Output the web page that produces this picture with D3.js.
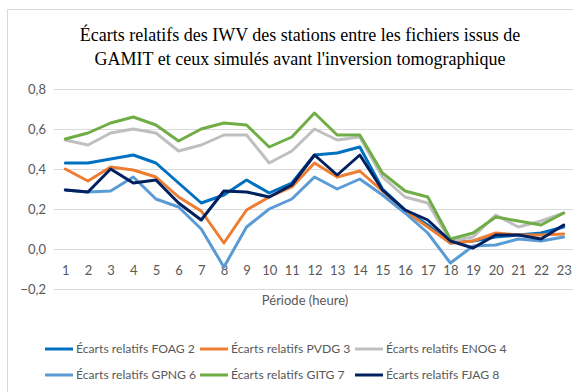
<!DOCTYPE html>
<html>
<head>
<meta charset="utf-8">
<script src="https://cdn.jsdelivr.net/npm/d3@7"></script>
<style>
  html, body { margin: 0; padding: 0; background: #fff; }
  svg { display: block; }
</style>
</head>
<body>
<svg id="chart" width="573" height="392"></svg>
<script>
// Heures de la période (axe des catégories)
const periods = d3.range(1, 24);
const yTicks = [-0.2, 0, 0.2, 0.4, 0.6, 0.8];

const seriesNames = [
  "Écarts relatifs FOAG 2",
  "Écarts relatifs PVDG 3",
  "Écarts relatifs ENOG 4",
  "Écarts relatifs GPNG 6",
  "Écarts relatifs GITG 7",
  "Écarts relatifs FJAG 8"
];
const seriesColors = ["#0070C0", "#ED7D31", "#BFBFBF", "#5B9BD5", "#70AD47", "#002060"];

const foag2 = [0.43, 0.43, 0.45, 0.47, 0.43, 0.33, 0.23, 0.27, 0.345, 0.28, 0.33, 0.47, 0.48, 0.51, 0.30, 0.195, 0.12, 0.03, 0.04, 0.06, 0.07, 0.08, 0.11];
const pvdg3 = [0.40, 0.34, 0.41, 0.395, 0.36, 0.26, 0.19, 0.03, 0.195, 0.26, 0.31, 0.43, 0.36, 0.39, 0.29, 0.19, 0.11, 0.03, 0.04, 0.08, 0.07, 0.07, 0.075];
const enog4 = [0.545, 0.52, 0.58, 0.60, 0.58, 0.49, 0.52, 0.57, 0.57, 0.43, 0.49, 0.60, 0.545, 0.56, 0.36, 0.26, 0.23, 0.04, 0.06, 0.17, 0.11, 0.14, 0.18];
const gpng6 = [0.295, 0.285, 0.29, 0.36, 0.25, 0.21, 0.10, -0.09, 0.11, 0.20, 0.25, 0.36, 0.30, 0.35, 0.27, 0.18, 0.08, -0.07, 0.015, 0.02, 0.05, 0.04, 0.06];
const gitg7 = [0.55, 0.58, 0.63, 0.66, 0.62, 0.54, 0.60, 0.63, 0.62, 0.51, 0.56, 0.68, 0.57, 0.57, 0.38, 0.29, 0.26, 0.05, 0.08, 0.16, 0.14, 0.12, 0.18];
const fjag8 = [0.295, 0.285, 0.40, 0.33, 0.345, 0.23, 0.145, 0.29, 0.285, 0.26, 0.32, 0.47, 0.37, 0.47, 0.295, 0.195, 0.145, 0.04, 0.005, 0.07, 0.07, 0.05, 0.12];

const seriesValues = [foag2, pvdg3, enog4, gpng6, gitg7, fjag8];

const svg = d3.select("#chart");
const sans = "Lato, 'Open Sans', sans-serif";

// Cadre de la zone du graphique
svg.append("rect")
  .attr("x", 7.5).attr("y", 9.5)
  .attr("width", 600).attr("height", 400)
  .attr("fill", "#fff")
  .attr("stroke", "#D9D9D9");

// Titre
const title = svg.append("text")
  .attr("text-anchor", "middle")
  .attr("font-family", "'Liberation Serif', 'Times New Roman', serif")
  .attr("font-size", 18)
  .attr("fill", "#000");
title.append("tspan").attr("x", 300).attr("y", 41)
  .text("Écarts relatifs des IWV des stations entre les fichiers issus de");
title.append("tspan").attr("x", 300).attr("y", 65)
  .text("GAMIT et ceux simulés avant l'inversion tomographique");

// Échelles
const x = d3.scalePoint().domain(periods).range([54, 575]).padding(0.5);
const y = d3.scaleLinear().domain([-0.2, 0.8]).range([289, 89]);

// Quadrillage horizontal
svg.append("g")
  .selectAll("line")
  .data(yTicks)
  .join("line")
  .attr("x1", 54).attr("x2", 575)
  .attr("y1", d => Math.round(y(d)) + 0.5)
  .attr("y2", d => Math.round(y(d)) + 0.5)
  .attr("stroke", "#D9D9D9")
  .attr("stroke-width", 1);

// Axe vertical (libellés seulement)
const yAxis = svg.append("g")
  .attr("transform", "translate(46,0)")
  .call(d3.axisLeft(y).tickValues(yTicks).tickSize(0).tickPadding(0)
    .tickFormat(d => d3.format(".1f")(d).replace(".", ",")));
yAxis.select(".domain").remove();
yAxis.selectAll("text")
  .attr("font-family", sans)
  .attr("font-size", 13)
  .attr("fill", "#595959");

// Axe horizontal (libellés des heures)
const xAxis = svg.append("g")
  .attr("transform", `translate(0,${y(0)})`)
  .call(d3.axisBottom(x).tickSize(0).tickPadding(17));
xAxis.select(".domain").remove();
xAxis.selectAll("text")
  .attr("font-family", sans)
  .attr("font-size", 13)
  .attr("fill", "#595959");

// Titre de l'axe horizontal
svg.append("text")
  .attr("x", 305).attr("y", 305)
  .attr("text-anchor", "middle")
  .attr("font-family", sans)
  .attr("font-size", 13)
  .attr("fill", "#595959")
  .text("Période (heure)");

// Courbes
const line = d3.line()
  .x((d, i) => x(periods[i]))
  .y(d => y(d));

svg.append("g")
  .selectAll("path")
  .data(seriesValues)
  .join("path")
  .attr("d", d => line(d))
  .attr("fill", "none")
  .attr("stroke", (d, i) => seriesColors[i])
  .attr("stroke-width", 3)
  .attr("stroke-linejoin", "round")
  .attr("stroke-linecap", "round");

// Légende
const legend = svg.append("g");
const items = legend.selectAll("g")
  .data(seriesNames)
  .join("g")
  .attr("transform", (d, i) => `translate(${45 + (i % 3) * 155},${i < 3 ? 349 : 375})`);
items.append("line")
  .attr("x1", 0).attr("x2", 28)
  .attr("y1", 0).attr("y2", 0)
  .attr("stroke", (d, i) => seriesColors[i])
  .attr("stroke-width", 3);
items.append("text")
  .attr("x", 31).attr("y", 0)
  .attr("dy", "0.35em")
  .attr("font-family", sans)
  .attr("font-size", 12.2)
  .attr("fill", "#595959")
  .text(d => d);
</script>
</body>
</html>
